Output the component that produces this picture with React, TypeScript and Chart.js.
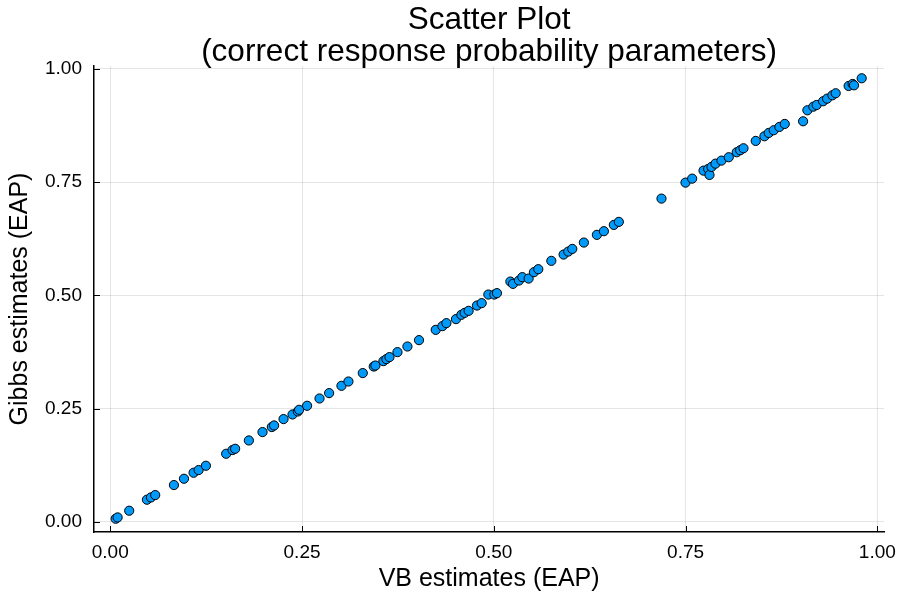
import React, { useEffect, useRef } from "react";
import { Chart, registerables } from "chart.js";

Chart.register(...registerables);

const TITLE_LINES = ["Scatter Plot", "(correct response probability parameters)"];
const X_LABEL = "VB estimates (EAP)";
const Y_LABEL = "Gibbs estimates (EAP)";
const TICK_VALUES = [0, 0.25, 0.5, 0.75, 1.0];

const vbEstimates = [
  0.0070, 0.0096, 0.0247, 0.0478, 0.0530, 0.0586, 0.0830, 0.0961, 0.1086, 0.1152,
  0.1247, 0.1511, 0.1594, 0.1628, 0.1807, 0.1985, 0.2106, 0.2136, 0.2259, 0.2376,
  0.2445, 0.2462, 0.2566, 0.2728, 0.2853, 0.3014, 0.3105, 0.3292, 0.3435, 0.3457,
  0.3561, 0.3600, 0.3640, 0.3744, 0.3874, 0.4025, 0.4243, 0.4330, 0.4382, 0.4507,
  0.4577, 0.4620, 0.4672, 0.4781, 0.4842, 0.4929, 0.5007, 0.5041, 0.5216, 0.5250,
  0.5328, 0.5372, 0.5454, 0.5523, 0.5580, 0.5750, 0.5910, 0.5971, 0.6023, 0.6174,
  0.6344, 0.6435, 0.6565, 0.6630, 0.7186, 0.7499, 0.7586, 0.7734, 0.7795, 0.7812,
  0.7838, 0.7890, 0.7968, 0.8063, 0.8167, 0.8212, 0.8255, 0.8415, 0.8528, 0.8584,
  0.8649, 0.8723, 0.8793, 0.9032, 0.9088, 0.9166, 0.9209, 0.9293, 0.9345, 0.9414,
  0.9457, 0.9626, 0.9678, 0.9696, 0.9796,
];

const gibbsEstimates = [
  0.0066, 0.0095, 0.0243, 0.0486, 0.0536, 0.0589, 0.0810, 0.0949, 0.1082, 0.1141,
  0.1236, 0.1501, 0.1583, 0.1611, 0.1795, 0.1980, 0.2091, 0.2126, 0.2267, 0.2369,
  0.2435, 0.2472, 0.2561, 0.2722, 0.2841, 0.3002, 0.3097, 0.3283, 0.3428, 0.3450,
  0.3547, 0.3592, 0.3636, 0.3746, 0.3870, 0.4011, 0.4238, 0.4320, 0.4386, 0.4475,
  0.4570, 0.4614, 0.4658, 0.4775, 0.4828, 0.5018, 0.5018, 0.5049, 0.5305, 0.5254,
  0.5327, 0.5402, 0.5371, 0.5512, 0.5578, 0.5762, 0.5901, 0.5967, 0.6026, 0.6166,
  0.6336, 0.6417, 0.6556, 0.6623, 0.7137, 0.7490, 0.7578, 0.7755, 0.7792, 0.7660,
  0.7837, 0.7909, 0.7976, 0.8051, 0.8161, 0.8205, 0.8249, 0.8411, 0.8514, 0.8587,
  0.8647, 0.8720, 0.8786, 0.8845, 0.9088, 0.9168, 0.9205, 0.9287, 0.9344, 0.9419,
  0.9464, 0.9625, 0.9669, 0.9640, 0.9795,
];

const FONT = "'Liberation Sans', Arial, Helvetica, sans-serif";

const innerTicks = {
  id: "innerTicks",
  beforeDatasetsDraw(chart: any) {
    const { ctx, chartArea, scales } = chart;
    ctx.save();
    ctx.strokeStyle = "#000";
    ctx.lineWidth = 1;
    for (const v of TICK_VALUES) {
      const px = Math.round(scales.x.getPixelForValue(v)) + 0.5;
      ctx.beginPath();
      ctx.moveTo(px, chartArea.bottom);
      ctx.lineTo(px, chartArea.bottom - 6);
      ctx.stroke();
      const py = Math.round(scales.y.getPixelForValue(v)) + 0.5;
      ctx.beginPath();
      ctx.moveTo(chartArea.left, py);
      ctx.lineTo(chartArea.left + 6, py);
      ctx.stroke();
    }
    ctx.restore();
  },
};

// Title centred over the plot area (as in the reference), not over the whole canvas.
const plotTitle = {
  id: "plotTitle",
  afterDraw(chart: any) {
    const { ctx, chartArea } = chart;
    const cx = (chartArea.left + chartArea.right) / 2;
    ctx.save();
    ctx.fillStyle = "#000";
    ctx.font = `31.5px ${FONT}`;
    ctx.textAlign = "center";
    ctx.textBaseline = "alphabetic";
    ctx.fillText(TITLE_LINES[0], cx, 29);
    ctx.fillText(TITLE_LINES[1], cx, 61);
    ctx.restore();
  },
};

export default function App() {
  const ref = useRef<HTMLCanvasElement | null>(null);

  useEffect(() => {
    if (!ref.current) return;
    const points = vbEstimates.map((x, i) => ({ x, y: gibbsEstimates[i] }));
    const setTicks = (scale: any) => {
      scale.ticks = TICK_VALUES.map((value) => ({ value }));
    };
    const chart = new Chart(ref.current, {
      type: "scatter",
      data: {
        datasets: [
          {
            label: "y1",
            data: points,
            backgroundColor: "#009afa",
            borderColor: "#000000",
            borderWidth: 1,
            pointRadius: 4.6,
            pointHoverRadius: 4.6,
          },
        ],
      },
      plugins: [innerTicks, plotTitle],
      options: {
        responsive: false,
        animation: false,
        layout: { padding: { left: 0, right: 20, top: 66, bottom: 0 } },
        plugins: {
          legend: { display: false },
          tooltip: { enabled: false },
          title: { display: false },
        },
        scales: {
          x: {
            type: "linear",
            min: -0.0212,
            max: 1.009,
            afterBuildTicks: setTicks,
            afterFit: (scale: any) => {
              scale.height = 64;
            },
            grid: {
              color: "rgba(0,0,0,0.1)",
              lineWidth: 1,
              drawTicks: false,
            },
            border: { display: true, color: "#000", width: 1.5 },
            ticks: {
              color: "#000",
              padding: 9,
              font: { family: FONT, size: 19 },
              callback: (v: any) => Number(v).toFixed(2),
              maxRotation: 0,
            },
            title: {
              display: true,
              text: X_LABEL,
              color: "#000",
              font: { family: FONT, size: 25, lineHeight: 1.2 },
              padding: { top: 0, bottom: 2 },
            },
          },
          y: {
            type: "linear",
            min: -0.0227,
            max: 1.0066,
            afterBuildTicks: setTicks,
            afterFit: (scale: any) => {
              scale.width = 94;
            },
            grid: {
              color: "rgba(0,0,0,0.1)",
              lineWidth: 1,
              drawTicks: false,
            },
            border: { display: true, color: "#000", width: 1.5 },
            ticks: {
              color: "#000",
              padding: 12,
              font: { family: FONT, size: 19 },
              callback: (v: any) => Number(v).toFixed(2),
            },
            title: {
              display: true,
              text: Y_LABEL,
              color: "#000",
              font: { family: FONT, size: 25, lineHeight: 1.2 },
              padding: { top: 5, bottom: 0 },
            },
          },
        },
      },
    });
    return () => chart.destroy();
  }, []);

  return (
    <div style={{ position: "absolute", left: 0, top: 0, width: 905, height: 596, background: "#fff" }}>
      <canvas ref={ref} width={905} height={596} style={{ display: "block" }} />
    </div>
  );
}
